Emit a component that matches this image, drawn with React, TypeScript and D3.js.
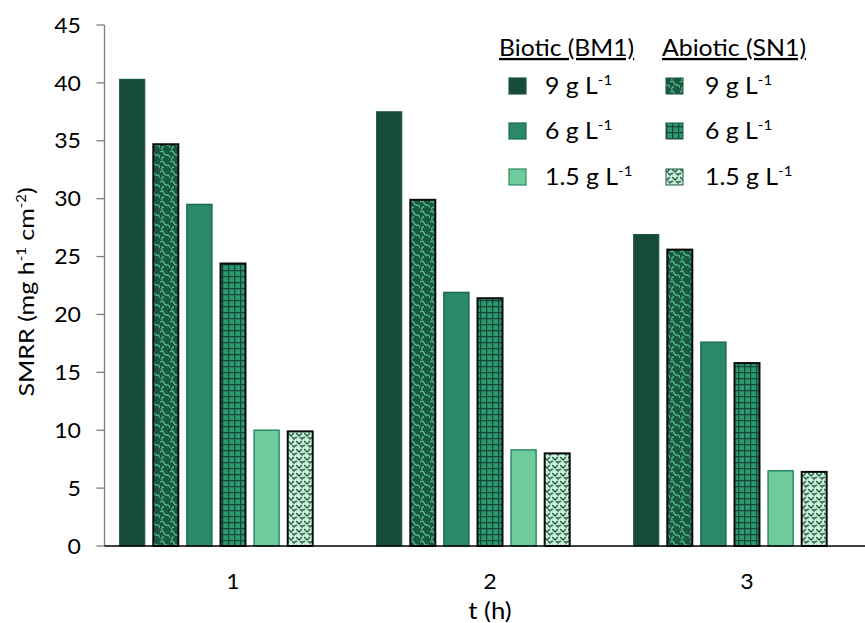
import React from "react";
import * as d3 from "d3";

// Sampling times (h)
const times = ["1", "2", "3"];
// Series keys; the trailing empty slot keeps Excel-like cluster spacing
const seriesKeys = ["b9", "a9", "b6", "a6", "b15", "a15", "empty"];
// SMRR values (mg h-1 cm-2)
const biotic9 = [40.3, 37.5, 26.9];
const abiotic9 = [34.7, 29.9, 25.6];
const biotic6 = [29.5, 21.9, 17.6];
const abiotic6 = [24.4, 21.4, 15.8];
const biotic15 = [10.0, 8.3, 6.5];
const abiotic15 = [9.9, 8.0, 6.4];
const yTicks = [0, 5, 10, 15, 20, 25, 30, 35, 40, 45];
const legendLabels = ["9", "6", "1.5"];

const FONT = "Lato, 'Open Sans', sans-serif";
// horizontal stretch applied to text so the wide letterforms fit
const SX = 1.12;

const seriesData: { key: string; values: number[]; fill: string; stroke: string; sw: number }[] = [
  { key: "b9", values: biotic9, fill: "#164a39", stroke: "#1d5744", sw: 1.2 },
  { key: "a9", values: abiotic9, fill: "url(#pat9)", stroke: "#0b0b0b", sw: 2 },
  { key: "b6", values: biotic6, fill: "#2a8968", stroke: "#1f6b50", sw: 1.5 },
  { key: "a6", values: abiotic6, fill: "url(#pat6)", stroke: "#0b0b0b", sw: 2 },
  { key: "b15", values: biotic15, fill: "#6fcb9b", stroke: "#2e8a64", sw: 1.5 },
  { key: "a15", values: abiotic15, fill: "url(#pat15)", stroke: "#0b0b0b", sw: 2 },
];

function Label(props: { x: number; y: number; size: number; children: React.ReactNode; underline?: boolean; sx?: number }) {
  const sx = props.sx ?? SX;
  return (
    <text
      transform={`translate(${props.x},${props.y}) scale(${sx},1)`}
      fontFamily={FONT}
      fontSize={props.size}
      fill="#000"
      textDecoration={props.underline ? "underline" : undefined}
    >
      {props.children}
    </text>
  );
}

export default function App() {
  const W = 865;
  const H = 623;
  const x0 = d3.scaleBand<string>().domain(times).range([104.5, 875.5]).paddingInner(0).paddingOuter(0);
  const x1 = d3
    .scaleBand<string>()
    .domain(seriesKeys)
    .range([0, x0.bandwidth()])
    .paddingInner(0.256)
    .paddingOuter(0.4525);
  const y = d3.scaleLinear().domain([0, 45]).range([546, 25]);
  const axisX = 104.5;

  const legendRows = [86, 131, 177];
  const bioticFills = ["#164a39", "#2a8968", "#6fcb9b"];
  const bioticStrokes = ["#1d5744", "#1f6b50", "#2e8a64"];
  const abioticFills = ["url(#pat9)", "url(#pat6)", "url(#pat15)"];

  return (
    <svg width={W} height={H} style={{ position: "absolute", left: 0, top: 0, background: "#fff" }}>
      <defs>
        <pattern id="pat9" patternUnits="userSpaceOnUse" width="10" height="10">
          <rect width="10" height="10" fill="#1a5843" />
          <path d="M0,2 Q3,0 4,3 T8,5 Q10,6 10,8 M2,10 Q1,7 4,7" fill="none" stroke="#4fbf88" strokeWidth="1.3" />
        </pattern>
        <pattern id="pat6" patternUnits="userSpaceOnUse" width="6" height="6">
          <rect width="6" height="6" fill="#2b9a6d" />
          <path d="M0.6,0 V6 M0,0.6 H6" stroke="#15443a" strokeWidth="1.3" />
        </pattern>
        <pattern id="pat15" patternUnits="userSpaceOnUse" width="8" height="8">
          <rect width="8" height="8" fill="#cdeedb" />
          <path d="M0,1 L3,4 L6,1 M4,5 L6,7 L8,5 M0,5 L1,6" fill="none" stroke="#1f6248" strokeWidth="1.4" />
        </pattern>
      </defs>

      {/* bars */}
      {seriesData.map((s) => (
        <g key={s.key}>
          {s.values.map((v, i) => {
            const bx = (x0(times[i]) ?? 0) + (x1(s.key) ?? 0);
            return (
              <rect
                key={i}
                x={bx}
                y={y(v)}
                width={x1.bandwidth()}
                height={y(0) - y(v)}
                fill={s.fill}
                stroke={s.stroke}
                strokeWidth={s.sw}
              />
            );
          })}
        </g>
      ))}

      {/* y axis */}
      <line x1={axisX} x2={axisX} y1={y(45)} y2={y(0)} stroke="#7f7f7f" strokeWidth={1.3} />
      {yTicks.map((t) => (
        <g key={t}>
          <line x1={axisX - 8} x2={axisX} y1={y(t)} y2={y(t)} stroke="#7f7f7f" strokeWidth={1.3} />
          <text
            transform={`translate(81,${y(t)}) scale(1.05,1)`}
            dy="0.35em"
            textAnchor="end"
            fontFamily={FONT}
            fontSize={22}
            fill="#000"
          >
            {t}
          </text>
        </g>
      ))}
      {/* x axis */}
      <line x1={axisX} x2={W} y1={y(0)} y2={y(0)} stroke="#000" strokeWidth={1.5} />
      {times.map((t) => (
        <text
          key={t}
          transform={`translate(${(x0(t) ?? 0) + x0.bandwidth() / 2},581) scale(1.05,1)`}
          dy="0.35em"
          textAnchor="middle"
          fontFamily={FONT}
          fontSize={22}
          fill="#000"
        >
          {t}
        </text>
      ))}

      {/* axis titles */}
      <text
        transform={`translate(490,611) scale(${SX},1)`}
        dy="0.35em"
        textAnchor="middle"
        fontFamily={FONT}
        fontSize={23}
        fill="#000"
      >
        t (h)
      </text>
      <text
        transform="translate(26,292) rotate(-90) scale(1.14,1)"
        textAnchor="middle"
        dy="0.35em"
        fontFamily={FONT}
        fontSize={22}
        fill="#000"
      >
        SMRR (mg h
        <tspan dy="-8" fontSize={13}>-1</tspan>
        <tspan dy="8"> cm</tspan>
        <tspan dy="-8" fontSize={13}>-2</tspan>
        <tspan dy="8">)</tspan>
      </text>

      {/* legend */}
      <Label x={499} y={56} size={23} underline sx={1.075}>
        Biotic (BM1)
      </Label>
      <Label x={662} y={56} size={23} underline sx={1.08}>
        Abiotic (SN1)
      </Label>
      {legendLabels.map((lab, i) => (
        <g key={lab}>
          <rect x={509} y={legendRows[i] - 8} width={17} height={16} fill={bioticFills[i]} stroke={bioticStrokes[i]} strokeWidth={1.2} />
          <Label x={545} y={legendRows[i] + 8} size={23} sx={1.08}>
            {lab} g L<tspan dy="-9" fontSize={14}>-1</tspan>
          </Label>
          <rect x={666} y={legendRows[i] - 8} width={17} height={16} fill={abioticFills[i]} stroke="#1d5744" strokeWidth={1} />
          <Label x={705} y={legendRows[i] + 8} size={23} sx={1.08}>
            {lab} g L<tspan dy="-9" fontSize={14}>-1</tspan>
          </Label>
        </g>
      ))}
    </svg>
  );
}
